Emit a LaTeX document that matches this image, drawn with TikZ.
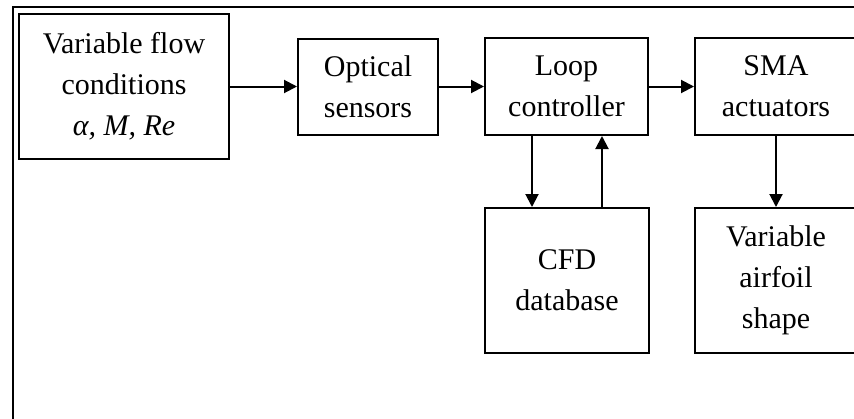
\documentclass[tikz,border=0pt]{standalone}
\usepackage{fontspec}
\setmainfont{Liberation Serif}
\usetikzlibrary{arrows.meta}
\begin{document}
\begin{tikzpicture}[x=1pt,y=-1pt,
  blk/.style={draw,line width=2pt,align=center,inner sep=0pt,
    font=\fontsize{30}{41}\selectfont},
  arr/.style={line width=2pt,-{Triangle[length=13pt,width=13pt]}}]
\useasboundingbox (0,0) rectangle (854,418);
\fill[white] (0,0) rectangle (854,418);
% outer frame
\draw[line width=2.6pt] (13,460) -- (13,7) -- (900,7);
% blocks
\node[blk,minimum width=210,minimum height=145] (flow) at (124,86.5)
  {Variable flow\\conditions\\\textit{α, M, Re}};
\node[blk,minimum width=140,minimum height=96] (opt) at (368,86.5)
  {Optical\\sensors};
\node[blk,minimum width=163,minimum height=97] (loop) at (566.5,86.5)
  {Loop\\controller};
\node[blk,minimum width=162,minimum height=97] (sma) at (776,86.5)
  {SMA\\actuators};
\node[blk,minimum width=164,minimum height=145] (cfd) at (567,280.5)
  {CFD\\database};
\node[blk,minimum width=162,minimum height=145] (foil) at (776,280.5)
  {Variable\\airfoil\\shape};
% connectors
\coordinate (dn) at (532,0);
\coordinate (up) at (602,0);
\draw[arr] (flow.east |- opt.west) -- (opt.west);
\draw[arr] (opt.east) -- (loop.west);
\draw[arr] (loop.east) -- (sma.west);
\draw[arr] (loop.south -| dn) -- (cfd.north -| dn);
\draw[arr] (cfd.north -| up) -- (loop.south -| up);
\draw[arr] (sma.south) -- (foil.north);
\end{tikzpicture}
\end{document}
